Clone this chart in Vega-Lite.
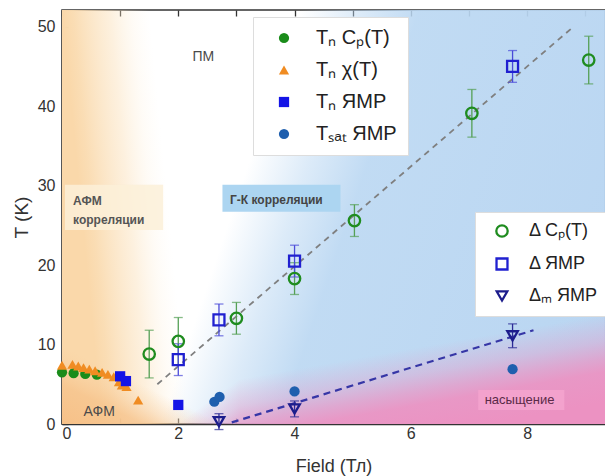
{
  "$schema": "https://vega.github.io/schema/vega-lite/v6.json",
  "width": 543,
  "height": 414,
  "autosize": {"type": "none"},
  "padding": {"left": 62, "top": 10, "right": 0, "bottom": 52},
  "background": "white",
  "config": {
    "font": "Liberation Sans",
    "view": {"stroke": "#333333", "strokeWidth": 1.5},
    "axis": {"zindex": 1, "grid": false, "domainColor": "#333333", "domainWidth": 1.5, "tickColor": "#333333", "tickWidth": 1.3, "labelColor": "#333333", "titleColor": "#333333", "labelFont": "Liberation Sans", "titleFont": "Liberation Sans", "titleFontWeight": "normal"}
  },
  "datasets": {
    "filled": [
      {"series": "Tₙ Cₚ(T)", "field": 0.0, "T": 6.5},
      {"series": "Tₙ Cₚ(T)", "field": 0.2, "T": 6.4},
      {"series": "Tₙ Cₚ(T)", "field": 0.4, "T": 6.3},
      {"series": "Tₙ Cₚ(T)", "field": 0.6, "T": 6.2},
      {"series": "Tₙ χ(T)", "field": 0.0, "T": 7.4},
      {"series": "Tₙ χ(T)", "field": 0.18, "T": 7.5},
      {"series": "Tₙ χ(T)", "field": 0.28, "T": 7.3},
      {"series": "Tₙ χ(T)", "field": 0.37, "T": 7.1},
      {"series": "Tₙ χ(T)", "field": 0.47, "T": 6.9},
      {"series": "Tₙ χ(T)", "field": 0.57, "T": 6.7},
      {"series": "Tₙ χ(T)", "field": 0.69, "T": 6.5},
      {"series": "Tₙ χ(T)", "field": 0.79, "T": 6.25},
      {"series": "Tₙ χ(T)", "field": 0.89, "T": 5.95},
      {"series": "Tₙ χ(T)", "field": 0.98, "T": 5.3},
      {"series": "Tₙ χ(T)", "field": 1.03, "T": 4.9},
      {"series": "Tₙ χ(T)", "field": 1.11, "T": 4.7},
      {"series": "Tₙ χ(T)", "field": 1.31, "T": 3.0},
      {"series": "Tₙ ЯМР", "field": 1.0, "T": 6.0},
      {"series": "Tₙ ЯМР", "field": 1.1, "T": 5.4},
      {"series": "Tₙ ЯМР", "field": 2.0, "T": 2.4},
      {"series": "Tₛₐₜ ЯМР", "field": 2.62, "T": 2.8},
      {"series": "Tₛₐₜ ЯМР", "field": 2.71, "T": 3.4},
      {"series": "Tₛₐₜ ЯМР", "field": 4.0, "T": 4.1},
      {"series": "Tₛₐₜ ЯМР", "field": 7.75, "T": 6.9}
    ],
    "open": [
      {"series": "Δ Cₚ(T)", "field": 1.5, "T": 8.8, "err": 3.0},
      {"series": "Δ Cₚ(T)", "field": 2.0, "T": 10.4, "err": 3.0},
      {"series": "Δ Cₚ(T)", "field": 3.0, "T": 13.3, "err": 2.0},
      {"series": "Δ Cₚ(T)", "field": 4.0, "T": 18.3, "err": 2.0},
      {"series": "Δ Cₚ(T)", "field": 5.03, "T": 25.6, "err": 2.0},
      {"series": "Δ Cₚ(T)", "field": 7.05, "T": 39.1, "err": 3.0},
      {"series": "Δ Cₚ(T)", "field": 9.06, "T": 45.8, "err": 3.0},
      {"series": "Δ ЯМР", "field": 2.0, "T": 8.1, "err": 2.0},
      {"series": "Δ ЯМР", "field": 2.7, "T": 13.1, "err": 2.0},
      {"series": "Δ ЯМР", "field": 4.0, "T": 20.5, "err": 2.0},
      {"series": "Δ ЯМР", "field": 7.75, "T": 45.0, "err": 2.0},
      {"series": "Δₘ ЯМР", "field": 2.7, "T": 0.3, "err": 1.0},
      {"series": "Δₘ ЯМР", "field": 4.0, "T": 1.9, "err": 1.0},
      {"series": "Δₘ ЯМР", "field": 7.75, "T": 11.1, "err": 1.5}
    ],
    "fitGray": [
      {"field": 1.64, "T": 5.0},
      {"field": 8.75, "T": 49.7}
    ],
    "fitNavy": [
      {"field": 2.92, "T": 0.2},
      {"field": 8.11, "T": 11.8}
    ]
  },
  "layer": [
    {
      "layer": [
        {
          "data": {"values": [{}]},
          "mark": {"type": "rect", "fill": {"gradient": "linear", "x1": 0, "y1": 0, "x2": 1.3, "y2": 0.3354, "stops": [
            {"offset": 0, "color": "rgba(186,215,242,0)"},
            {"offset": 0.3166, "color": "rgba(186,215,242,0)"},
            {"offset": 0.396, "color": "rgba(186,215,242,0.5)"},
            {"offset": 0.475, "color": "rgba(186,215,242,0.9)"},
            {"offset": 1, "color": "rgba(183,212,241,1)"}
          ]}},
          "encoding": {
            "x": {"datum": 0, "type": "quantitative", "scale": {"domain": [0, 9.34], "nice": false, "zero": false},
              "axis": {"title": "Field (Тл)", "values": [0, 1, 2, 3, 4, 5, 6, 7, 8, 9], "format": "d", "labelExpr": "datum.value % 2 === 0 ? datum.label : ''", "tickSize": -6, "labelPadding": 7, "labelFontSize": 16, "titleFontSize": 18, "titlePadding": 16}},
            "x2": {"datum": 9.34},
            "y": {"datum": 0, "type": "quantitative", "scale": {"domain": [0, 52.1], "nice": false, "zero": false},
              "axis": {"title": "T (K)", "values": [0, 5, 10, 15, 20, 25, 30, 35, 40, 45, 50], "labelExpr": "datum.value % 10 === 0 ? datum.label : ''", "tickSize": -6, "labelPadding": 13, "labelFontSize": 16, "titleFontSize": 19, "titlePadding": 6}},
            "y2": {"datum": 52.1}
          }
        },
        {
          "data": {"values": [{}]},
          "mark": {"type": "rect", "fill": {"gradient": "linear", "x1": 0, "y1": 0, "x2": 0.4, "y2": -0.0295, "stops": [
            {"offset": 0, "color": "rgba(250,216,170,1)"},
            {"offset": 0.05, "color": "rgba(250,219,176,0.95)"},
            {"offset": 0.22, "color": "rgba(251,226,190,0.5)"},
            {"offset": 0.32, "color": "rgba(252,234,206,0.18)"},
            {"offset": 0.4, "color": "rgba(252,240,220,0)"}
          ]}},
          "encoding": {
            "x": {"datum": 0, "type": "quantitative"},
            "x2": {"datum": 9.34},
            "y": {"datum": 0, "type": "quantitative"},
            "y2": {"datum": 52.1}
          }
        },
        {
          "data": {"values": [{}]},
          "mark": {"type": "rect", "fill": {"gradient": "linear", "x1": 0, "y1": 1, "x2": 0.7, "y2": 0.335, "stops": [
            {"offset": 0, "color": "rgba(246,190,132,0.9)"},
            {"offset": 0.35, "color": "rgba(246,194,138,0.75)"},
            {"offset": 0.5, "color": "rgba(247,200,148,0.4)"},
            {"offset": 0.7, "color": "rgba(248,205,155,0)"}
          ]}},
          "encoding": {
            "x": {"datum": 0, "type": "quantitative"},
            "x2": {"datum": 3},
            "y": {"datum": 0, "type": "quantitative"},
            "y2": {"datum": 10}
          }
        },
        {
          "data": {"values": [{}]},
          "mark": {"type": "rect", "fill": {"gradient": "linear", "x1": 0, "y1": 0.98913, "x2": 0.2603, "y2": 1.6651, "stops": [
            {"offset": 0, "color": "rgba(236,146,194,0)"},
            {"offset": 0.3, "color": "rgba(236,146,194,0.35)"},
            {"offset": 0.5, "color": "rgba(236,146,194,0.7)"},
            {"offset": 0.65, "color": "rgba(236,146,194,0.92)"},
            {"offset": 1, "color": "rgba(236,146,194,1)"}
          ]}},
          "encoding": {
            "x": {"datum": 1.9953, "type": "quantitative"},
            "x2": {"datum": 3.0617},
            "y": {"datum": 0, "type": "quantitative"},
            "y2": {"datum": 14.346}
          }
        },
        {
          "data": {"values": [{}]},
          "mark": {"type": "rect", "fill": {"gradient": "linear", "x1": 0, "y1": 0.6041, "x2": 0.333, "y2": 1.1917, "stops": [
            {"offset": 0, "color": "rgba(236,146,194,0)"},
            {"offset": 0.3, "color": "rgba(236,146,194,0.35)"},
            {"offset": 0.5, "color": "rgba(236,146,194,0.7)"},
            {"offset": 0.65, "color": "rgba(236,146,194,0.92)"},
            {"offset": 1, "color": "rgba(236,146,194,1)"}
          ]}},
          "encoding": {
            "x": {"datum": 3.0617, "type": "quantitative"},
            "x2": {"datum": 9.34},
            "y": {"datum": 0, "type": "quantitative"},
            "y2": {"datum": 14.346}
          }
        },
        {
          "data": {"values": [{}]},
          "mark": {"type": "rect", "fill": "#fcf0d8", "opacity": 0.85},
          "encoding": {
            "x": {"datum": 0.05, "type": "quantitative"},
            "x2": {"datum": 1.74},
            "y": {"datum": 24.4, "type": "quantitative"},
            "y2": {"datum": 30.1}
          }
        },
        {
          "data": {"values": [{}]},
          "mark": {"type": "rect", "fill": "#acd5f1"},
          "encoding": {
            "x": {"datum": 2.76, "type": "quantitative"},
            "x2": {"datum": 4.79},
            "y": {"datum": 26.7, "type": "quantitative"},
            "y2": {"datum": 30.1}
          }
        },
        {
          "data": {"values": [{}]},
          "mark": {"type": "rect", "fill": "#f3a2cd"},
          "encoding": {
            "x": {"datum": 7.16, "type": "quantitative"},
            "x2": {"datum": 8.64},
            "y": {"datum": 1.76, "type": "quantitative"},
            "y2": {"datum": 4.28}
          }
        },
        {
          "data": {"values": [{}]},
          "mark": {"type": "text", "text": "ПМ", "fontSize": 14, "color": "#4a4a4a", "align": "center", "baseline": "middle"},
          "encoding": {"x": {"datum": 2.43, "type": "quantitative"}, "y": {"datum": 46.2, "type": "quantitative"}}
        },
        {
          "data": {"values": [{}]},
          "mark": {"type": "text", "text": "АФМ", "fontSize": 12, "fontWeight": "bold", "color": "#555555", "align": "left", "baseline": "middle"},
          "encoding": {"x": {"datum": 0.19, "type": "quantitative"}, "y": {"datum": 28.1, "type": "quantitative"}}
        },
        {
          "data": {"values": [{}]},
          "mark": {"type": "text", "text": "корреляции", "fontSize": 12, "fontWeight": "bold", "color": "#555555", "align": "left", "baseline": "middle"},
          "encoding": {"x": {"datum": 0.19, "type": "quantitative"}, "y": {"datum": 25.7, "type": "quantitative"}}
        },
        {
          "data": {"values": [{}]},
          "mark": {"type": "text", "text": "Г-К корреляции", "fontSize": 12, "fontWeight": "bold", "color": "#444444", "align": "left", "baseline": "middle"},
          "encoding": {"x": {"datum": 2.89, "type": "quantitative"}, "y": {"datum": 28.2, "type": "quantitative"}}
        },
        {
          "data": {"values": [{}]},
          "mark": {"type": "text", "text": "насыщение", "fontSize": 13, "color": "#5a2a48", "align": "center", "baseline": "middle"},
          "encoding": {"x": {"datum": 7.87, "type": "quantitative"}, "y": {"datum": 3.0, "type": "quantitative"}}
        },
        {
          "data": {"values": [{}]},
          "mark": {"type": "text", "text": "АФМ", "fontSize": 14, "color": "#4a4a4a", "align": "center", "baseline": "middle"},
          "encoding": {"x": {"datum": 0.64, "type": "quantitative"}, "y": {"datum": 1.5, "type": "quantitative"}}
        },
        {
          "data": {"name": "fitGray"},
          "mark": {"type": "line", "color": "#7f7f7f", "strokeWidth": 1.8, "strokeDash": [6, 5]},
          "encoding": {"x": {"field": "field", "type": "quantitative", "title": "Field (Тл)"}, "y": {"field": "T", "type": "quantitative", "title": "T (K)"}}
        },
        {
          "data": {"name": "fitNavy"},
          "mark": {"type": "line", "color": "#3636a6", "strokeWidth": 2.2, "strokeDash": [7, 5]},
          "encoding": {"x": {"field": "field", "type": "quantitative", "title": "Field (Тл)"}, "y": {"field": "T", "type": "quantitative", "title": "T (K)"}}
        },
        {
          "data": {"name": "open"},
          "mark": {"type": "errorbar", "ticks": true, "size": 9, "thickness": 1.3},
          "encoding": {
            "x": {"field": "field", "type": "quantitative", "title": "Field (Тл)"},
            "y": {"field": "T", "type": "quantitative", "title": "T (K)"},
            "yError": {"field": "err"},
            "color": {"field": "series", "type": "nominal", "legend": null,
              "scale": {"domain": ["Δ Cₚ(T)", "Δ ЯМР", "Δₘ ЯМР"], "range": ["#55a055", "#4a4ad8", "#2c2c96"]}}
          }
        },
        {
          "data": {"name": "open"},
          "mark": {"type": "point", "filled": false, "strokeWidth": 2.3, "opacity": 1},
          "encoding": {
            "x": {"field": "field", "type": "quantitative", "title": "Field (Тл)"},
            "y": {"field": "T", "type": "quantitative", "title": "T (K)"},
            "color": {"field": "series", "type": "nominal",
              "scale": {"domain": ["Δ Cₚ(T)", "Δ ЯМР", "Δₘ ЯМР"], "range": ["#1f8c1f", "#2020d0", "#1c1c8c"]},
              "legend": {"orient": "none", "legendX": 413, "legendY": 202, "title": null, "fillColor": "white", "strokeColor": "#dddddd", "padding": 10, "labelFontSize": 18, "labelFont": "Liberation Sans", "labelColor": "#222222", "rowPadding": 11, "symbolOffset": 8, "labelOffset": 18, "symbolStrokeWidth": 2.3, "symbolSize": 70}},
            "shape": {"field": "series", "type": "nominal",
              "scale": {"domain": ["Δ Cₚ(T)", "Δ ЯМР", "Δₘ ЯМР"], "range": ["circle", "square", "triangle-down"]}},
            "size": {"field": "series", "type": "nominal", "legend": null,
              "scale": {"domain": ["Δ Cₚ(T)", "Δ ЯМР", "Δₘ ЯМР"], "range": [130, 110, 110]}}
          }
        },
        {
          "data": {"name": "filled"},
          "mark": {"type": "point", "filled": true, "opacity": 1},
          "encoding": {
            "x": {"field": "field", "type": "quantitative", "title": "Field (Тл)"},
            "y": {"field": "T", "type": "quantitative", "title": "T (K)"},
            "color": {"field": "series", "type": "nominal",
              "scale": {"domain": ["Tₙ Cₚ(T)", "Tₙ χ(T)", "Tₙ ЯМР", "Tₛₐₜ ЯМР"], "range": ["#1a8c1a", "#f08c22", "#1414e6", "#1f5fae"]},
              "legend": {"orient": "none", "legendX": 191, "legendY": 7, "title": null, "fillColor": "white", "strokeColor": "#dddddd", "padding": 11, "labelFontSize": 20, "labelFont": "Liberation Sans", "labelColor": "#222222", "rowPadding": 12, "symbolOffset": 10, "labelOffset": 22}},
            "shape": {"field": "series", "type": "nominal",
              "scale": {"domain": ["Tₙ Cₚ(T)", "Tₙ χ(T)", "Tₙ ЯМР", "Tₛₐₜ ЯМР"], "range": ["circle", "triangle-up", "square", "circle"]}},
            "size": {"field": "series", "type": "nominal",
              "scale": {"domain": ["Tₙ Cₚ(T)", "Tₙ χ(T)", "Tₙ ЯМР", "Tₛₐₜ ЯМР"], "range": [105, 105, 95, 50]}}
          }
        }
      ],
      "resolve": {"scale": {"color": "independent", "shape": "independent", "size": "independent"}}
    },
    {
      "data": {"values": [{}]},
      "mark": {"type": "rule", "opacity": 0},
      "encoding": {
        "x": {"datum": 0, "type": "quantitative",
          "axis": {"orient": "top", "title": null, "labels": false, "values": [0, 1, 2, 3, 4, 5, 6, 7, 8, 9], "tickSize": -6, "domain": false}},
        "y": {"datum": 0, "type": "quantitative", "axis": null}
      }
    }
  ],
  "resolve": {"scale": {"color": "independent", "shape": "independent", "size": "independent"}, "axis": {"x": "independent", "y": "independent"}}
}
